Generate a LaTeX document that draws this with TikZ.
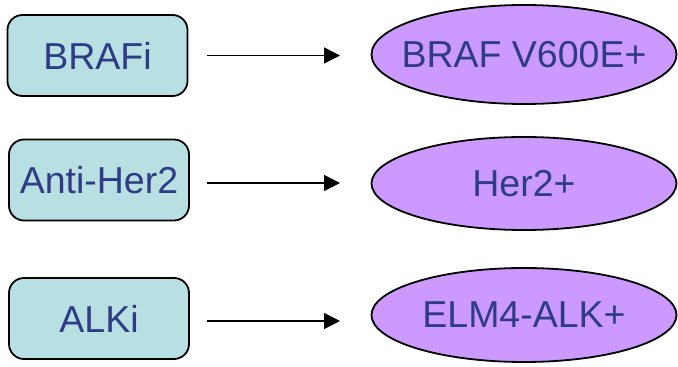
\documentclass[tikz,border=0pt]{standalone}
\usepackage{fontspec}
\setmainfont{Liberation Sans}
\usetikzlibrary{shapes.geometric,arrows.meta}
\definecolor{boxfill}{HTML}{B8E0E3}
\definecolor{ovalfill}{HTML}{CC99FF}
\definecolor{labeltext}{HTML}{2E3B85}
\newcommand{\fixedlabel}[1]{\makebox[0pt]{#1}}
\begin{document}
\begin{tikzpicture}[x=1pt,y=1pt,
  drugbox/.style={draw=black,line width=1.8pt,fill=boxfill,rounded corners=15pt,
    minimum width=180pt,minimum height=81pt,inner sep=0pt,
    text=labeltext,font=\fontsize{37.5}{42}\selectfont},
  marker/.style={draw=black,line width=1.8pt,fill=ovalfill,ellipse,
    minimum width=305pt,minimum height=96pt,inner sep=0pt,
    text=labeltext,font=\fontsize{37.5}{42}\selectfont},
  link/.style={line width=1.4pt,-{Triangle[length=16pt,width=16pt]}}]
\useasboundingbox (0,0) rectangle (678,367);
% drug classes
\node[drugbox] (brafi) at (97.5,311.5) {\fixedlabel{BRAFi}};
\node[drugbox] (her2i) at (99,187) {\fixedlabel{Anti-Her2}};
\node[drugbox] (alki)  at (99,48.5) {\fixedlabel{ALKi}};
% molecular targets
\node[marker,minimum height=99pt] (braf) at (524,312.5) {\fixedlabel{BRAF V600E+}};
\node[marker,minimum height=93pt] (her2) at (524,183.5) {\fixedlabel{Her2+}};
\node[marker,minimum height=94pt] (alk)  at (524,52) {\fixedlabel{ELM4-ALK+}};
% arrows
\coordinate (a1s) at (207,311.5); \coordinate (a1e) at (340,311.5);
\coordinate (a2s) at (207,184);   \coordinate (a2e) at (340,184);
\coordinate (a3s) at (207,46);    \coordinate (a3e) at (340,46);
\draw[link] (a1s) -- (a1e);
\draw[link] (a2s) -- (a2e);
\draw[link] (a3s) -- (a3e);
\end{tikzpicture}
\end{document}
